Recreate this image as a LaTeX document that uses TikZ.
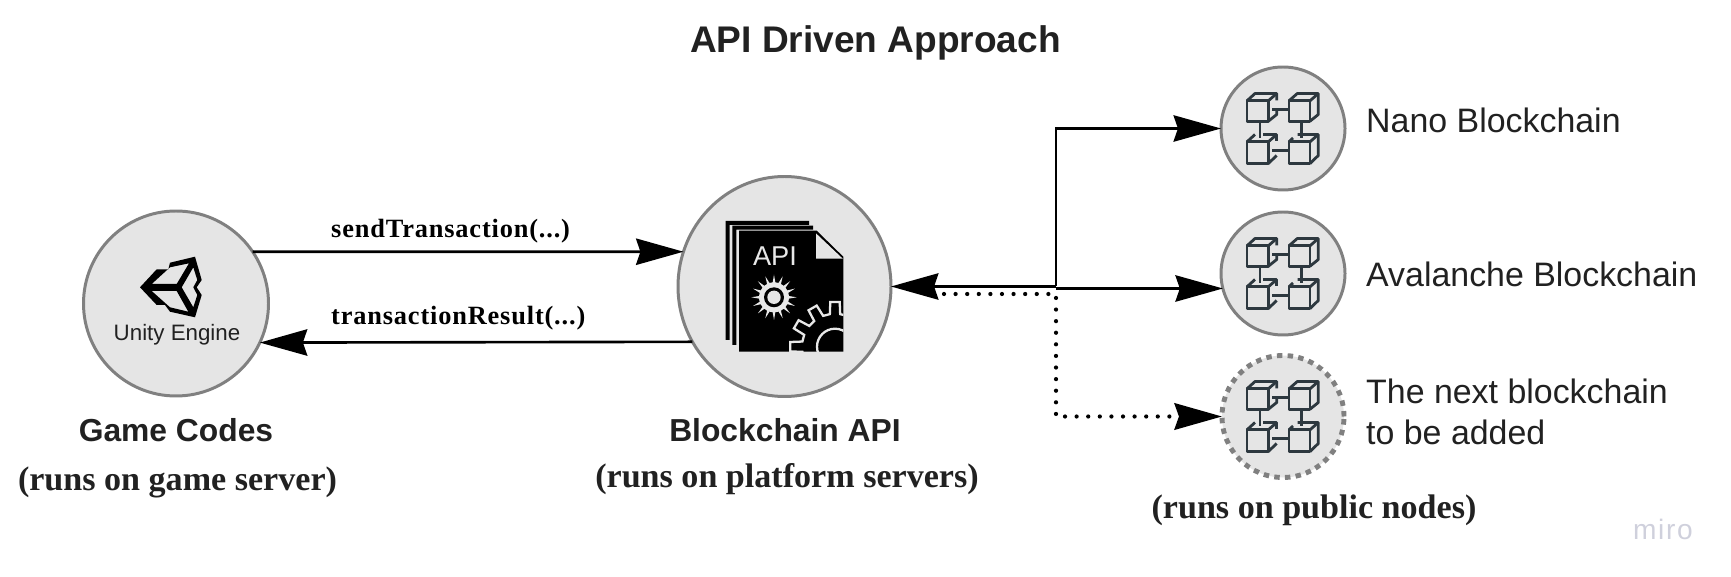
\documentclass[tikz,border=0pt]{standalone}
\usepackage{fontspec}
\setmainfont{Liberation Serif}
\setsansfont{Liberation Sans}
\newfontfamily\callfont[LetterSpace=3.2]{Liberation Serif}
\newfontfamily\mirofont[LetterSpace=6]{Liberation Sans}
\usetikzlibrary{arrows.meta,shapes.geometric}
\definecolor{discgray}{HTML}{E5E5E5}
\definecolor{rimgray}{HTML}{808080}
\definecolor{icondark}{HTML}{2D383F}
\definecolor{textdark}{HTML}{212121}
\definecolor{mirogray}{HTML}{CFD0DC}
\definecolor{gearwhite}{HTML}{E8E8E8}
\newcommand{\pxunit}{0.02cm}
\tikzset{
  disc/.style n args={2}{
    ellipse, inner sep=0pt, outer sep=0pt,
    minimum width=#1*\pxunit, minimum height=#2*\pxunit,
    fill=discgray, draw=rimgray, line width=1.7pt
  },
  flow/.style={-{Stealth[length=27pt,width=15pt,inset=2.5pt]}, line width=1.5pt, black},
  dotflow/.style={flow, line width=2.4pt, line cap=round, dash pattern=on 0pt off 6.6pt},
  heading/.style={font=\sffamily\bfseries\fontsize{21.1}{25}\selectfont, text=textdark},
  caption/.style={font=\sffamily\bfseries\fontsize{18.1}{21}\selectfont, text=textdark},
  where/.style={font=\bfseries\fontsize{19.4}{23}\selectfont, text=textdark},
  call/.style={font=\callfont\bfseries\fontsize{15}{17}\selectfont, text=black, anchor=west},
  chain/.style={font=\sffamily\fontsize{19.3}{23.3}\selectfont, text=textdark, anchor=west, align=left},
  blockicon/.pic={
    \begin{scope}[icondark, line width=1.6pt, line join=round]
      % Top left cube
      \draw (-36,-27.7) rectangle (-14.7,-7.3);
      \draw (-36,-27.7) -- (-28,-35) -- (-6.3,-35) -- (-6.3,-28);
      \draw (-14.7,-27.7) -- (-6.3,-35);
      \draw (-6.3,-20) -- (-6.3,-14) -- (-14.7,-7.3);
      % Top right cube
      \draw (6,-27.7) rectangle (27,-7.3);
      \draw (6,-27.7) -- (14.3,-35) -- (35.3,-35) -- (35.3,-14) -- (27,-7.3);
      \draw (27,-27.7) -- (35.3,-35);
      % Bottom left cube
      \draw (-36,13.3) rectangle (-14.7,35);
      \draw (-36,13.3) -- (-28,6);
      \draw (-19.7,6) -- (-6.3,6) -- (-6.3,13);
      \draw (-14.7,13.3) -- (-6.3,6);
      \draw (-6.3,27) -- (-14.7,35);
      % Bottom right cube
      \draw (6,13.3) rectangle (27,35);
      \draw (6,13.3) -- (10,9.5);
      \draw (14.7,6) -- (35.3,6) -- (35.3,27) -- (27,35);
      \draw (27,13.3) -- (35.3,6);
      % Links
      \draw (-10.7,-19.3) -- (5.3,-19.3);
      \draw (-10.7,22.3) -- (5.3,22.3);
      \draw (-23,-7.3) -- (-23,10);
      \draw (18.7,-7.3) -- (18.7,10);
    \end{scope}
  }
}
\begin{document}
\begin{tikzpicture}[x=\pxunit, y=-\pxunit]
  \useasboundingbox (0,0) rectangle (1731,577);

  % Discs
  \node[disc={185}{185}] (unity) at (176,303.5) {};
  \node[disc={213}{220}] (api) at (784.5,286.5) {};
  \node[disc={124}{123}] (nano) at (1283,128.5) {};
  \node[disc={124}{123}] (avalanche) at (1283,273.5) {};
  \node[disc={122}{122}, dash pattern=on 3.1pt off 3pt, line width=2.8pt] (next) at (1283,416.5) {};

  % Unity logo
  \fill[black, even odd rule]
    (140,287.3) -- (156.7,269.3) -- (168.3,269.3) -- (170,262.7) -- (195,256.7) -- (201.7,280)
    -- (196.7,287.3) -- (201.7,295) -- (195,317.3) -- (170,311.7) -- (165,305) -- (156.7,305) -- cycle
    (151.7,284) -- (170,267.3) -- (189,263.3) -- (176.7,284) -- cycle
    (181.7,287.3) -- (193.3,267.3) -- (197.3,280) -- (193.3,287.3) -- (197.3,295) -- (193.3,307.3) -- cycle
    (151.7,291) -- (176.7,291) -- (188.3,311.7) -- (170,307.3) -- cycle;
  \node[font=\sffamily\fontsize{12.7}{16}\selectfont, text=textdark] (unitytext) at (177,335) {Unity Engine};

  % API document
  \fill[black] (725.7,340) |- (809,221) -- (809,225) -- (729.7,225) -- (729.7,340) -- cycle;
  \fill[black] (732.3,345) |- (813,225.7) -- (813,229.7) -- (736.3,229.7) -- (736.3,345) -- cycle;
  \fill[black] (739,230.7) -- (816.7,230.7) -- (843.3,256.7) -- (843.3,351.7) -- (739,351.7) -- cycle;
  \filldraw[fill=discgray, draw=gearwhite, line width=0.8pt] (816.7,235) -- (841,258) -- (816.7,258) -- cycle;
  \node[font=\sffamily\fontsize{15.5}{18}\selectfont, text=gearwhite] (apitext) at (775,256) {API};
  % Small gear
  \begin{scope}[shift={(774,297.3)}]
    \fill[gearwhite] (-5:15) \foreach \a in {0,22.5,...,337.5} { -- (\a-5:15) -- (\a:22.7) -- (\a+5:15) } -- cycle;
    \fill[black] (0,0) circle[radius=10];
    \fill[discgray] (0,0) circle[radius=6.7];
  \end{scope}
  % Large gear
  \begin{scope}
    \clip (739,230.7) rectangle (843.3,351.7);
    \begin{scope}[shift={(835,346.7)}]
      \draw[gearwhite, line width=1.3pt] (-9:33) \foreach \a in {0,30,...,330} { -- (\a-9:33) -- (\a-6:45) -- (\a+6:45) -- (\a+9:33) } -- cycle;
      \draw[gearwhite, line width=1.3pt] (0,0) circle[radius=18];
    \end{scope}
  \end{scope}

  % Block icons
  \pic at (nano) {blockicon};
  \pic at (avalanche) {blockicon};
  \pic at (next) {blockicon};

  % Texts
  \node[heading] (title) at (875.5,43) {API Driven Approach};
  \node[caption] (gamename) at (176,430) {Game Codes};
  \node[where] (gamewhere) at (177.5,482) {(runs on game server)};
  \node[caption] (apiname) at (785,430) {Blockchain API};
  \node[where] (apiwhere) at (787,479) {(runs on platform servers)};
  \node[where] (publicwhere) at (1314,510) {(runs on public nodes)};
  \node[call] (sendlabel) at (325,231) {sendTransaction(...)};
  \node[call] (resultlabel) at (325,318) {transactionResult(...)};
  \node[chain] (nanotext) at (1360,120) {Nano Blockchain};
  \node[chain] (avatext) at (1360,274) {Avalanche Blockchain};
  \node[chain] (nexttext) at (1360,412) {The next blockchain\\to be added};
  \node[font=\mirofont\fontsize{16}{18}\selectfont, text=mirogray] (miro) at (1663,529) {miro};

  % Game server to API
  \draw[flow] (unity.34.5) -- (api.161);
  \draw[flow] (api.211) -- (unity.-25);

  % API to blockchains
  \coordinate (trunk) at (1056,286.5);
  \coordinate (dotstart) at (944,294);
  \coordinate (dotcorner) at (1056,416.5);
  \draw[dotflow] (dotstart) -| (dotcorner) -- (next.west);
  \draw[flow] (trunk) -- (api.east);
  \draw[flow] (trunk) |- (nano.west);
  \draw[flow] (trunk |- avalanche.194) -- (avalanche.194);
\end{tikzpicture}
\end{document}
